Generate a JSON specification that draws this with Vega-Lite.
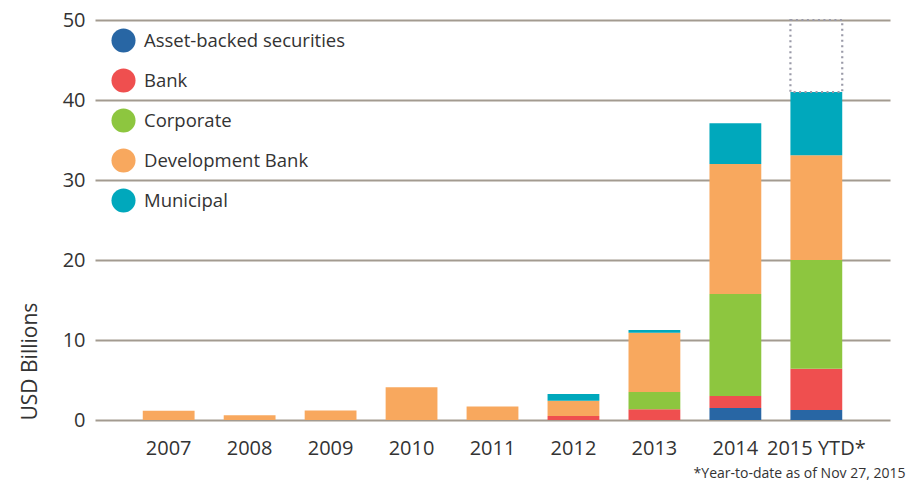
{
  "$schema": "https://vega.github.io/schema/vega-lite/v6.json",
  "width": 795,
  "height": 400,
  "autosize": {"type": "none"},
  "padding": {"left": 95, "top": 20, "right": 32, "bottom": 67},
  "background": "white",
  "config": {
    "view": {"stroke": null},
    "font": "Open Sans",
    "axis": {"labelColor": "#333333", "titleColor": "#333333", "labelFont": "Open Sans", "titleFont": "Open Sans", "titleFontWeight": "normal"}
  },
  "datasets": {
    "bonds": [
      {"year": "2007", "type": "Development Bank", "value": 1.15},
      {"year": "2008", "type": "Development Bank", "value": 0.6},
      {"year": "2009", "type": "Development Bank", "value": 1.2},
      {"year": "2010", "type": "Development Bank", "value": 4.1},
      {"year": "2011", "type": "Development Bank", "value": 1.7},
      {"year": "2012", "type": "Bank", "value": 0.5},
      {"year": "2012", "type": "Development Bank", "value": 1.9},
      {"year": "2012", "type": "Municipal", "value": 0.85},
      {"year": "2013", "type": "Bank", "value": 1.35},
      {"year": "2013", "type": "Corporate", "value": 2.15},
      {"year": "2013", "type": "Development Bank", "value": 7.4},
      {"year": "2013", "type": "Municipal", "value": 0.35},
      {"year": "2014", "type": "Asset-backed securities", "value": 1.5},
      {"year": "2014", "type": "Bank", "value": 1.5},
      {"year": "2014", "type": "Corporate", "value": 12.75},
      {"year": "2014", "type": "Development Bank", "value": 16.25},
      {"year": "2014", "type": "Municipal", "value": 5.1},
      {"year": "2015 YTD*", "type": "Asset-backed securities", "value": 1.25},
      {"year": "2015 YTD*", "type": "Bank", "value": 5.15},
      {"year": "2015 YTD*", "type": "Corporate", "value": 13.6},
      {"year": "2015 YTD*", "type": "Development Bank", "value": 13.1},
      {"year": "2015 YTD*", "type": "Municipal", "value": 7.9}
    ],
    "projection": [
      {"year": "2015 YTD*", "lo": 41, "hi": 50}
    ]
  },
  "layer": [
    {
      "data": {"name": "bonds"},
      "mark": {"type": "bar", "stroke": null},
      "encoding": {
        "x": {
          "field": "year", "type": "nominal",
          "scale": {"paddingInner": 0.36, "paddingOuter": 0.59},
          "axis": {
            "title": "*Year-to-date as of Nov 27, 2015",
            "titleFontSize": 14, "titleX": 810, "titleAlign": "right", "titleAnchor": "end", "titlePadding": 8,
            "labelAngle": 0, "labelFontSize": 20, "labelPadding": 18, "domain": false, "ticks": false
          }
        },
        "y": {
          "field": "value", "type": "quantitative", "aggregate": "sum", "stack": "zero",
          "scale": {"domain": [0, 50]},
          "axis": {
            "title": "USD Billions", "titleFontSize": 21, "titleAnchor": "start", "titlePadding": 22,
            "values": [0, 10, 20, 30, 40, 50], "labelFontSize": 20, "labelPadding": 10,
            "domain": false, "ticks": false, "gridColor": "#a39b90", "gridWidth": 2, "gridOpacity": 1
          }
        },
        "color": {
          "field": "type", "type": "nominal",
          "scale": {
            "domain": ["Asset-backed securities", "Bank", "Corporate", "Development Bank", "Municipal"],
            "range": ["#2866a4", "#ef4f4f", "#8dc63f", "#f8a85e", "#00a8bc"]
          },
          "legend": {
            "title": null, "orient": "none", "legendX": 16, "legendY": 8,
            "symbolType": "circle", "symbolSize": 580, "symbolStrokeWidth": 0,
            "labelFontSize": 18.5, "labelColor": "#333333", "labelFont": "Open Sans", "labelLimit": 400,
            "rowPadding": 15, "labelOffset": 8
          }
        },
        "order": {"field": "type", "sort": "ascending"}
      }
    },
    {
      "data": {"name": "projection"},
      "mark": {"type": "bar", "fill": null, "fillOpacity": 0, "stroke": "#9a9aa8", "strokeWidth": 2.2, "strokeDash": [2, 3.5]},
      "encoding": {
        "x": {"field": "year", "type": "nominal"},
        "y": {"field": "lo", "type": "quantitative"},
        "y2": {"field": "hi"}
      }
    }
  ]
}
